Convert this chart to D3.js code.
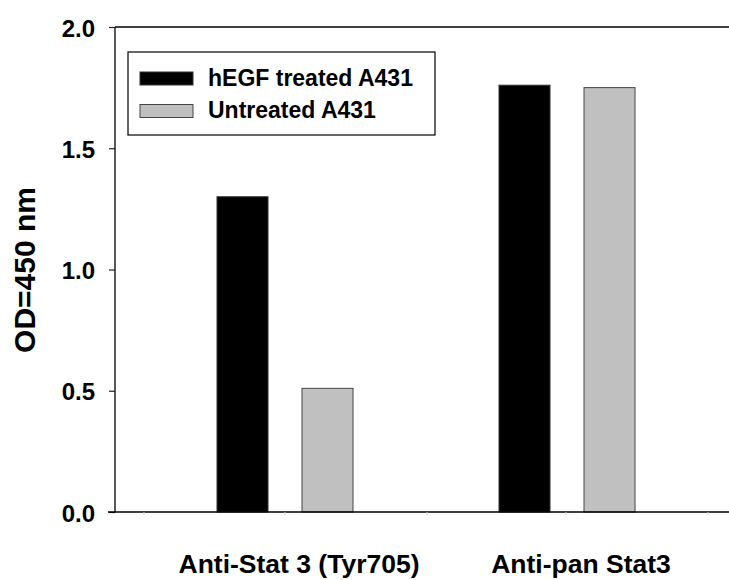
<!DOCTYPE html>
<html>
<head>
<meta charset="utf-8">
<script src="https://cdn.jsdelivr.net/npm/d3@7"></script>
<style>
  body { margin: 0; background: #fff; }
  text { font-family: "Liberation Sans", Arial, sans-serif; font-weight: bold; fill: #000; }
</style>
</head>
<body>
<div id="chart"></div>
<script>
// Data
var categories = ['Anti-Stat 3 (Tyr705)', 'Anti-pan Stat3'];
var seriesNames = ['hEGF treated A431', 'Untreated A431'];
var treated = [1.30, 1.76];
var untreated = [0.51, 1.75];
var yTicks = [0.0, 0.5, 1.0, 1.5, 2.0];

var seriesColors = ['#000000', '#c0c0c0'];
var seriesStroke = ['#333333', '#444444'];

var totalWidth = 729, totalHeight = 580;
var plot = { left: 115, top: 27, bottom: 512 };

var svg = d3.select('#chart')
  .append('svg')
  .attr('width', totalWidth)
  .attr('height', totalHeight);

// Scales
var y = d3.scaleLinear().domain([0, 2]).range([plot.bottom, plot.top]);
var x0 = d3.scaleBand().domain(categories).range([144, 708]).padding(0);
var x1 = d3.scaleBand().domain(seriesNames).range([73, 209]).paddingInner(0.4);

var rows = categories.map(function(c, i) {
  return { cat: c, values: [treated[i], untreated[i]] };
});

// Bars
var groups = svg.append('g').selectAll('g')
  .data(rows)
  .enter().append('g')
  .attr('transform', function(d) { return 'translate(' + x0(d.cat) + ',0)'; });

groups.selectAll('rect')
  .data(function(d) {
    return d.values.map(function(v, j) { return { name: seriesNames[j], value: v, j: j }; });
  })
  .enter().append('rect')
  .attr('x', function(d) { return x1(d.name); })
  .attr('width', x1.bandwidth())
  .attr('y', function(d) { return y(d.value); })
  .attr('height', function(d) { return plot.bottom - y(d.value); })
  .attr('fill', function(d) { return seriesColors[d.j]; })
  .attr('stroke', function(d) { return seriesStroke[d.j]; })
  .attr('stroke-width', 1);

// Top frame line
svg.append('line')
  .attr('x1', plot.left).attr('x2', totalWidth)
  .attr('y1', plot.top).attr('y2', plot.top)
  .attr('stroke', '#000').attr('stroke-width', 1.5);

// Y axis
var yAxis = svg.append('g')
  .attr('transform', 'translate(' + plot.left + ',0)')
  .call(d3.axisLeft(y).tickValues(yTicks).tickFormat(d3.format('.1f')).tickSize(6).tickPadding(14));
yAxis.select('.domain').attr('stroke', '#222').attr('stroke-width', 1.5).attr('d', 'M0,' + plot.top + 'V' + plot.bottom);
yAxis.selectAll('.tick line').attr('stroke', '#222').attr('stroke-width', 1.2);
yAxis.selectAll('.tick text')
  .style('font-size', '24px')
  .style('font-family', '"Liberation Sans", Arial, sans-serif')
  .style('font-weight', 'bold')
  .attr('fill', '#000')
  .attr('dy', '0.38em');

// X axis line + faint category ticks
var xTickPos = [144, 285, 427, 566, 708];
svg.append('line')
  .attr('x1', 108).attr('x2', totalWidth)
  .attr('y1', plot.bottom).attr('y2', plot.bottom)
  .attr('stroke', '#000').attr('stroke-width', 1.5);
svg.append('g').selectAll('line')
  .data(xTickPos)
  .enter().append('line')
  .attr('x1', function(d) { return d; }).attr('x2', function(d) { return d; })
  .attr('y1', plot.bottom).attr('y2', plot.bottom + 3)
  .attr('stroke', '#d4d4d4').attr('stroke-width', 1);

// Category labels
svg.append('g').selectAll('text')
  .data(categories)
  .enter().append('text')
  .attr('x', function(d) { return x0(d) + x0.bandwidth() / 2 + 14; })
  .attr('y', 573)
  .attr('text-anchor', 'middle')
  .style('font-size', '26.5px')
  .text(function(d) { return d; });

// Y axis title
svg.append('text')
  .attr('transform', 'translate(35,270) rotate(-90)')
  .attr('text-anchor', 'middle')
  .style('font-size', '30px')
  .text('OD=450 nm');

// Legend
var legend = svg.append('g');
legend.append('rect')
  .attr('x', 128).attr('y', 52)
  .attr('width', 307).attr('height', 83)
  .attr('fill', '#fff').attr('stroke', '#000').attr('stroke-width', 1.2);

var items = legend.selectAll('g.item')
  .data(seriesNames)
  .enter().append('g')
  .attr('class', 'item')
  .attr('transform', function(d, i) { return 'translate(140,' + (72 + i * 32.5) + ')'; });

items.append('rect')
  .attr('width', 53).attr('height', 13)
  .attr('fill', function(d, i) { return seriesColors[i]; })
  .attr('stroke', function(d, i) { return seriesStroke[i]; })
  .attr('stroke-width', 1);

items.append('text')
  .attr('x', 68).attr('y', 13.5)
  .style('font-size', '23px')
  .text(function(d) { return d; });
</script>
</body>
</html>
